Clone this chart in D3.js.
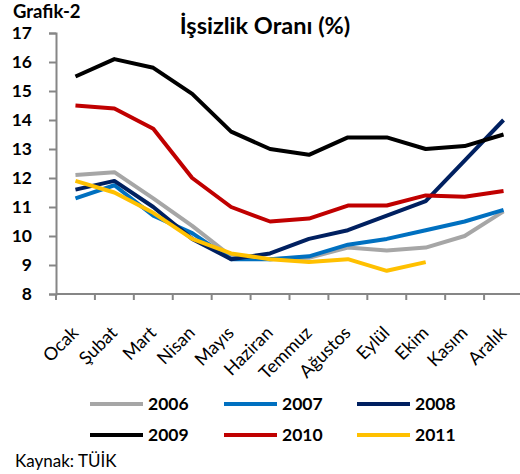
<!DOCTYPE html>
<html><head><meta charset="utf-8">
<script src="https://cdn.jsdelivr.net/npm/d3@7"></script>
<style>body{margin:0;background:#fff}svg{font-family:Lato,"Open Sans",sans-serif}</style>
</head><body><svg id="c" width="520" height="474"></svg>
<script>
const months = ["Ocak","Şubat","Mart","Nisan","Mayıs","Haziran","Temmuz","Ağustos","Eylül","Ekim","Kasım","Aralık"];
const yTicks = [8,9,10,11,12,13,14,15,16,17];
const s2006 = [12.1,12.2,11.3,10.35,9.3,9.2,9.25,9.6,9.5,9.6,10.0,10.85];
const s2007 = [11.3,11.75,10.7,10.1,9.2,9.2,9.3,9.7,9.9,10.2,10.5,10.9];
const s2008 = [11.6,11.9,11.0,9.9,9.2,9.4,9.9,10.2,10.7,11.2,12.6,14.0];
const s2009 = [15.5,16.1,15.8,14.9,13.6,13.0,12.8,13.4,13.4,13.0,13.1,13.5];
const s2010 = [14.5,14.4,13.7,12.0,11.0,10.5,10.6,11.05,11.05,11.4,11.35,11.55];
const s2011 = [11.9,11.5,10.8,9.9,9.4,9.2,9.1,9.2,8.8,9.1];
const seriesNames = ["2006","2007","2008","2009","2010","2011"];
const seriesColors = ["#A6A6A6","#0070C0","#002060","#000000","#C00000","#FFC000"];
const seriesData = [s2006,s2007,s2008,s2009,s2010,s2011];

const svg = d3.select("#c");
const x = d3.scaleBand().domain(months).range([56,523]);
const y = d3.scaleLinear().domain([8,17]).range([294,33]);

svg.append("text").attr("x",13).attr("y",18).attr("font-weight","bold").attr("font-size",18.5).text("Grafik-2");
svg.append("text").attr("x",265).attr("y",34).attr("text-anchor","middle").attr("font-weight","bold").attr("font-size",23.5).text("İşsizlik Oranı (%)");

// Y axis
const ya = svg.append("g").attr("transform","translate(56,0)")
  .call(d3.axisLeft(y).tickValues(yTicks).tickSize(7).tickPadding(17).tickFormat(d3.format("d")));
ya.select(".domain").attr("stroke","#868686").attr("stroke-width",2);
ya.selectAll(".tick line").attr("stroke","#868686").attr("stroke-width",2);
ya.selectAll(".tick text").attr("font-size",17.5).attr("font-weight","bold").attr("fill","#000").attr("font-family","Lato,sans-serif");

// X axis with ticks at boundaries
const xa = svg.append("g").attr("transform","translate(0,294)");
xa.append("line").attr("x1",56).attr("x2",523).attr("stroke","#868686").attr("stroke-width",2);
const bounds = months.map(m=>x(m)).concat([x.range()[1]]);
xa.selectAll("line.t").data(bounds).join("line").attr("class","t")
  .attr("x1",d=>d).attr("x2",d=>d).attr("y1",0).attr("y2",6).attr("stroke","#868686").attr("stroke-width",2);
xa.selectAll("text").data(months).join("text")
  .attr("transform",d=>`translate(${x(d)+x.bandwidth()/2+4},${40}) rotate(-45)`)
  .attr("text-anchor","end").attr("font-size",18).text(d=>d);

// Lines
const line = d3.line().x((d,i)=>x(months[i])+x.bandwidth()/2).y(d=>y(d));
seriesData.forEach((s,i)=>{
  svg.append("path").datum(s).attr("fill","none").attr("stroke",seriesColors[i])
    .attr("stroke-width",4).attr("stroke-linejoin","round").attr("d",line);
});

// Legend
const legX = [90,224,357];
const legY = [404,435];
seriesNames.forEach((n,i)=>{
  const lx = legX[i%3], ly = legY[Math.floor(i/3)];
  svg.append("line").attr("x1",lx).attr("x2",lx+53).attr("y1",ly).attr("y2",ly)
    .attr("stroke",seriesColors[i]).attr("stroke-width",4);
  svg.append("text").attr("x",lx+58).attr("y",ly).attr("dy","0.36em")
    .attr("font-size",17.5).attr("font-weight","bold").text(n);
});
svg.append("text").attr("x",15).attr("y",467).attr("font-size",17).text("Kaynak: TÜİK");
</script></body></html>
